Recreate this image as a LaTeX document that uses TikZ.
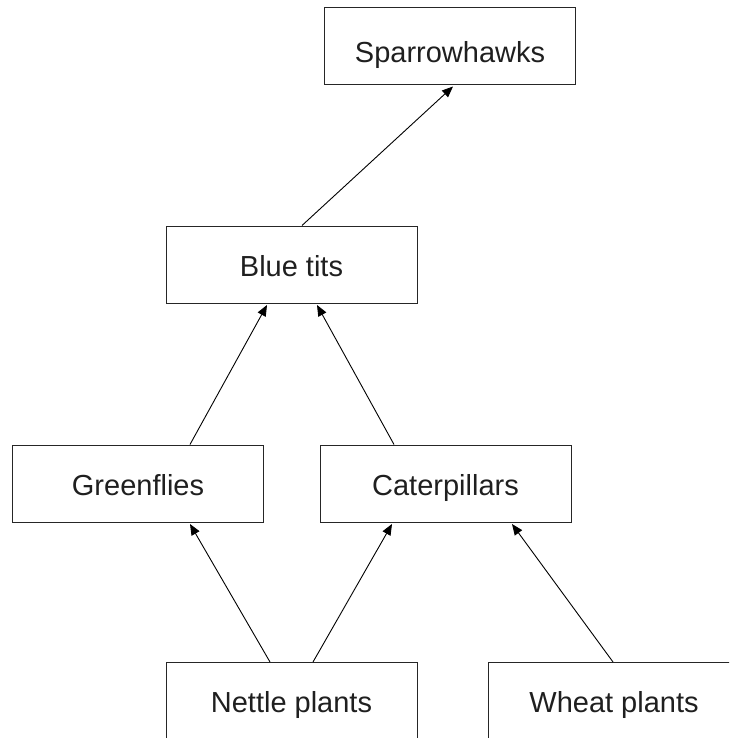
\documentclass[tikz,border=0pt]{standalone}
\usepackage{fontspec}
\setmainfont{Liberation Sans}
\usetikzlibrary{arrows.meta}

\begin{document}
\begin{tikzpicture}[x=1pt,y=-1pt,
    box/.style={draw=black!85,line width=1pt,minimum width=251pt,minimum height=77pt,inner sep=0pt,text height=23pt,text depth=0pt,text=black!88,font=\fontsize{29}{34}\selectfont},
    feeds/.style={line width=0.9pt,-{Triangle[length=11pt,width=9pt]}}]
        \clip (0,0) rectangle (729,738);
        \useasboundingbox (0,0) rectangle (729,738);
        % the boxes
        \node[box,text height=34pt] (hawk) at (450,46) {Sparrowhawks};
        \node[box] (tits) at (291.5,264.5) {Blue tits};
        \node[box] (green) at (138,483.5) {Greenflies};
        \node[box] (cater) at (445.5,483.5) {Caterpillars};
        \node[box] (nettle) at (291.5,701) {Nettle plants};
        \node[box] (wheat) at (614,701) {Wheat plants};
        % who eats whom
        \draw[feeds] ([xshift=10.5pt]tits.north) -- ([xshift=3pt,yshift=-1.5pt]hawk.south);
        \draw[feeds] ([xshift=52pt]green.north) -- ([xshift=-24.5pt,yshift=-1.5pt]tits.south);
        \draw[feeds] ([xshift=-51.5pt]cater.north) -- ([xshift=25.5pt,yshift=-1.5pt]tits.south);
        \draw[feeds] ([xshift=-21.5pt]nettle.north) -- ([xshift=52pt,yshift=-1.5pt]green.south);
        \draw[feeds] ([xshift=21.5pt]nettle.north) -- ([xshift=-53.5pt,yshift=-1.5pt]cater.south);
        \draw[feeds] ([xshift=-1pt]wheat.north) -- ([xshift=66.5pt,yshift=-1.5pt]cater.south);
      \end{tikzpicture}
\end{document}
